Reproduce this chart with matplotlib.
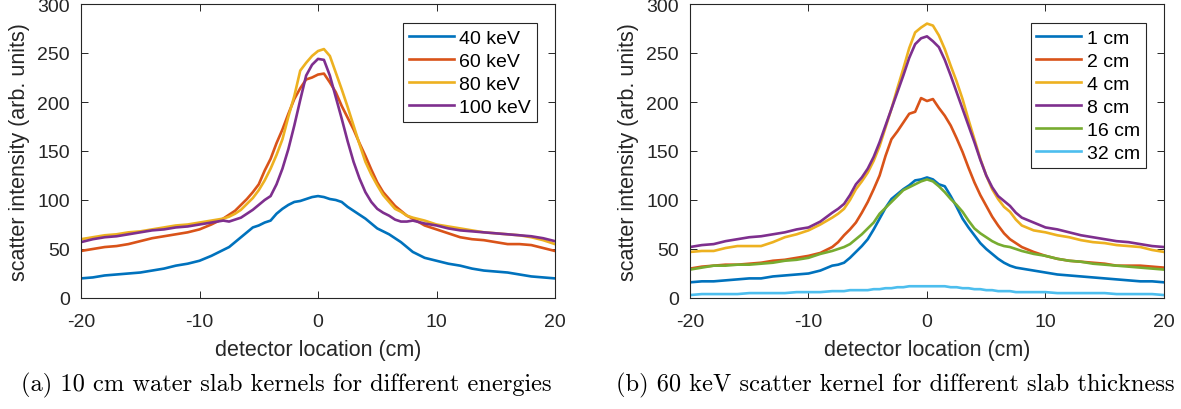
import numpy as np
import matplotlib
matplotlib.use("Agg")
import matplotlib.pyplot as plt

plt.rcParams["font.family"] = ["Liberation Sans", "DejaVu Sans"]
plt.rcParams["axes.unicode_minus"] = False

# detector location (cm): 1 cm steps on the wings, 0.5 cm steps over -8..8
x_cm = list(range(-20, -8)) + [-8 + 0.5 * i for i in range(33)] + list(range(9, 21))

# (a) 10 cm water slab, different energies
kev40 = [20, 21, 23, 24, 25, 26, 28, 30, 33, 35, 38, 43,
         49, 52, 57, 62, 67, 72, 74, 77, 79, 86, 91, 95, 98, 99, 101, 103,
         104, 103, 101, 100, 98, 93, 89, 85, 81, 76, 71, 68, 65, 61, 57, 52, 47,
         41, 38, 35, 33, 30, 28, 27, 26, 24, 22, 21, 20]
kev60 = [48, 50, 52, 53, 55, 58, 61, 63, 65, 67, 70, 75,
         81, 85, 89, 95, 101, 108, 116, 130, 142, 158, 172, 188, 203, 214, 223, 225,
         228, 229, 220, 210, 196, 184, 172, 158, 145, 131, 118, 108, 101, 94, 89, 84, 81,
         74, 70, 66, 62, 60, 59, 57, 55, 55, 54, 51, 48]
kev80 = [60, 62, 64, 65, 67, 68, 70, 72, 74, 75, 77, 79,
         81, 83, 86, 90, 96, 102, 110, 120, 132, 146, 162, 185, 206, 232, 240, 247,
         252, 254, 247, 230, 213, 195, 176, 157, 139, 126, 115, 105, 98, 91, 88, 84, 82,
         79, 75, 73, 71, 69, 67, 66, 65, 64, 62, 59, 55]
kev100 = [57, 60, 62, 63, 65, 67, 69, 70, 72, 73, 75, 77,
          79, 78, 80, 82, 86, 90, 95, 100, 104, 116, 132, 152, 176, 202, 227, 238,
          244, 243, 227, 205, 183, 160, 139, 122, 108, 98, 91, 87, 84, 80, 78, 78, 79,
          76, 74, 71, 69, 68, 67, 66, 65, 64, 63, 61, 58]
energy_labels = ["40 keV", "60 keV", "80 keV", "100 keV"]

# (b) 60 keV, different slab thickness
cm1 = [16, 17, 17, 18, 19, 20, 20, 22, 23, 24, 25, 28,
       33, 34, 36, 41, 47, 53, 60, 70, 81, 92, 101, 106, 111, 115, 120, 121,
       123, 121, 116, 114, 104, 93, 81, 72, 64, 56, 50, 45, 40, 36, 33, 31, 30,
       28, 26, 24, 23, 22, 21, 20, 19, 18, 17, 17, 16]
cm2 = [30, 32, 33, 34, 34, 35, 36, 38, 39, 41, 43, 46,
       52, 57, 64, 70, 77, 87, 98, 111, 125, 145, 162, 170, 179, 188, 190, 204,
       201, 203, 194, 186, 176, 163, 149, 133, 118, 105, 94, 83, 74, 66, 60, 56, 52,
       47, 43, 40, 38, 37, 36, 35, 33, 33, 33, 32, 31]
cm4 = [47, 48, 48, 51, 53, 53, 53, 57, 62, 65, 69, 75,
       82, 86, 91, 100, 111, 119, 128, 140, 155, 174, 193, 214, 234, 255, 271, 276,
       280, 278, 268, 254, 237, 221, 203, 182, 162, 142, 125, 111, 101, 93, 88, 80, 74,
       69, 67, 64, 62, 59, 57, 56, 54, 53, 52, 49, 47]
cm8 = [52, 54, 55, 58, 60, 62, 63, 65, 67, 70, 72, 78,
       87, 91, 96, 105, 116, 123, 132, 144, 159, 176, 193, 210, 227, 245, 259, 265,
       267, 262, 256, 243, 227, 210, 193, 176, 159, 141, 125, 113, 104, 99, 94, 87, 82,
       77, 72, 70, 67, 64, 62, 60, 58, 57, 55, 53, 52]
cm16 = [29, 31, 33, 33, 34, 34, 35, 36, 38, 39, 41, 45,
        48, 50, 52, 55, 60, 65, 71, 77, 86, 92, 98, 104, 110, 113, 116, 119,
        121, 119, 114, 108, 101, 95, 88, 79, 71, 66, 62, 58, 55, 53, 52, 50, 48,
        45, 43, 40, 38, 37, 35, 34, 33, 32, 31, 30, 29]
cm32 = [3, 4, 4, 4, 4, 5, 5, 5, 5, 6, 6, 6,
        7, 7, 7, 8, 8, 8, 8, 9, 9, 10, 10, 11, 11, 12, 12, 12,
        12, 12, 12, 12, 11, 11, 10, 10, 9, 9, 8, 8, 7, 7, 7, 6, 6,
        6, 6, 5, 5, 5, 5, 5, 4, 4, 4, 4, 3]
thick_labels = ["1 cm", "2 cm", "4 cm", "8 cm", "16 cm", "32 cm"]

colors = ["#0072BD", "#D95319", "#EDB120", "#7E2F8E", "#77AC30", "#4DBEEE"]
axis_col = "#262626"

fig = plt.figure(figsize=(11.81, 4.10), dpi=100)
ax_a = fig.add_axes([81 / 1181, 111 / 410, 474 / 1181, 294 / 410])
ax_b = fig.add_axes([690 / 1181, 111 / 410, 474 / 1181, 294 / 410])


def style_axes(ax, series, labels):
    for i, (ys, lab) in enumerate(zip(series, labels)):
        ax.plot(x_cm, ys, color=colors[i], linewidth=1.9, label=lab)
    ax.set_xlim(-20, 20)
    ax.set_ylim(0, 300)
    ax.set_xticks([-20, -10, 0, 10, 20])
    ax.set_yticks(range(0, 301, 50))
    ax.tick_params(direction="in", length=5, width=0.7, top=True, right=True,
                   labelsize=14, colors=axis_col)
    ax.tick_params(axis="x", pad=11)
    ax.tick_params(axis="y", pad=8)
    for sp in ax.spines.values():
        sp.set_color(axis_col)
        sp.set_linewidth(0.8)
    ax.set_xlabel("detector location (cm)", fontsize=15.5, color=axis_col, labelpad=6)
    ax.set_ylabel("scatter intensity (arb. units)", fontsize=15.5, color=axis_col)
    # right edge of the rotated label about 52 px left of the axis
    ax.yaxis.set_label_coords(-0.108, 0.5)
    leg = ax.legend(loc="upper right", bbox_to_anchor=(0.962, 0.935), borderaxespad=0,
                    fancybox=False, framealpha=1, edgecolor="#262626", fontsize=14,
                    handlelength=2.3, handletextpad=0.3, labelspacing=0.28,
                    borderpad=0.3)
    leg.get_frame().set_linewidth(0.8)


style_axes(ax_a, [kev40, kev60, kev80, kev100], energy_labels)
style_axes(ax_b, [cm1, cm2, cm4, cm8, cm16, cm32], thick_labels)

fig.text(286 / 1181, 1 - 385 / 410, "(a) 10 cm water slab kernels for different energies",
         ha="center", va="center", fontsize=17.6, family="cmr10")
fig.text(895 / 1181, 1 - 385 / 410, "(b) 60 keV scatter kernel for different slab thickness",
         ha="center", va="center", fontsize=17.6, family="cmr10")

fig.savefig("out.png", dpi=100)
